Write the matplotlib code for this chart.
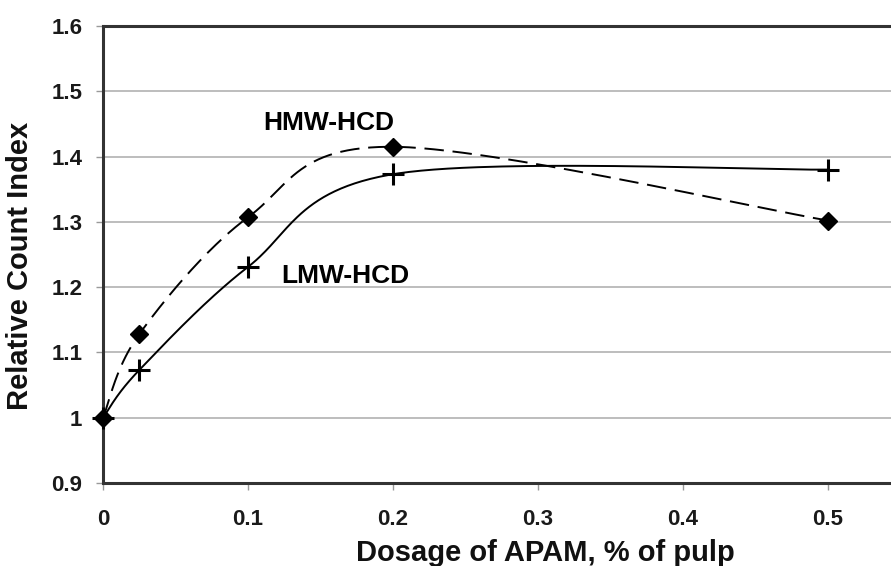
import matplotlib
matplotlib.use('Agg')
import matplotlib.pyplot as plt
import numpy as np

# data
dosage = [0.0, 0.025, 0.1, 0.2, 0.5]
hmw = [1.0, 1.128, 1.307, 1.415, 1.302]
lmw = [1.0, 1.073, 1.231, 1.373, 1.380]
xticks = [0, 0.1, 0.2, 0.3, 0.4, 0.5]
xticklabels = ['0', '0.1', '0.2', '0.3', '0.4', '0.5']
yticks = [0.9, 1.0, 1.1, 1.2, 1.3, 1.4, 1.5, 1.6]
yticklabels = ['0.9', '1', '1.1', '1.2', '1.3', '1.4', '1.5', '1.6']


def smooth(x, y, n=60):
    # excel-style smoothed line: cubic bezier segments, catmull-rom control points
    p = np.column_stack([x, y]).astype(float)
    pts = np.vstack([p[0], p, p[-1]])
    out = []
    t = np.linspace(0, 1, n)[:, None]
    for i in range(1, len(pts) - 2):
        p0, p1 = pts[i], pts[i + 1]
        c1 = p0 + (pts[i + 1] - pts[i - 1]) / 6
        c2 = p1 - (pts[i + 2] - pts[i]) / 6
        seg = (1 - t)**3 * p0 + 3 * (1 - t)**2 * t * c1 + 3 * (1 - t) * t**2 * c2 + t**3 * p1
        out.append(seg)
    out = np.vstack(out)
    return out[:, 0], out[:, 1]


plt.rcParams['font.family'] = ['Liberation Sans', 'DejaVu Sans']
plt.rcParams['font.weight'] = 'bold'

fig = plt.figure(figsize=(8.91, 5.66), dpi=100)
W, H = 891, 566
ax = fig.add_axes([103 / W, (H - 483) / H, (W - 103) / W, (483 - 26) / H])

ax.set_xlim(0, 0.5434)
ax.set_ylim(0.9, 1.6)

for yv in yticks[1:-1]:
    ax.axhline(yv, color='#bdbdbd', lw=1.4, zorder=1)

sx, sy = smooth(dosage, hmw)
ax.plot(sx, sy, color='black', lw=1.4, linestyle=(0, (10, 4.5)), zorder=3)
sx, sy = smooth(dosage, lmw)
ax.plot(sx, sy, color='black', lw=1.4, zorder=3)

ax.plot(dosage, lmw, linestyle='none', marker='+', markersize=16,
        markeredgewidth=2.2, color='black', zorder=4, clip_on=False)
ax.plot(dosage, hmw, linestyle='none', marker='D', markersize=9,
        color='black', zorder=5, clip_on=False)

ax.text(0.156, 1.452, 'HMW-HCD', fontsize=19, fontweight='bold', ha='center', va='center')
ax.text(0.167, 1.217, 'LMW-HCD', fontsize=19, fontweight='bold', ha='center', va='center')

ax.set_xticks(xticks)
ax.set_xticklabels(xticklabels, fontsize=16, fontweight='bold', color='#1a1a1a')
ax.set_yticks(yticks)
ax.set_yticklabels(yticklabels, fontsize=16, fontweight='bold', color='#1a1a1a')
ax.tick_params(axis='y', length=5, width=1, color='#999999', pad=10)
ax.tick_params(axis='x', length=5, width=1, color='#999999', pad=14)

for side in ['left', 'top', 'bottom']:
    ax.spines[side].set_color('#333333')
    ax.spines[side].set_linewidth(2.2)
ax.spines['right'].set_visible(False)

ax.set_xlabel('Dosage of APAM, % of pulp', fontsize=21, fontweight='bold', color='#111111')
ax.set_ylabel('Relative Count Index', fontsize=21, fontweight='bold', color='#111111')
ax.xaxis.set_label_coords((545 - 103) / (W - 103), -(539 - 483) / (483 - 26))
ax.yaxis.set_label_coords(-(103 - 34) / (W - 103), (483 - 266) / (483 - 26))

fig.savefig('out.png', dpi=100)
